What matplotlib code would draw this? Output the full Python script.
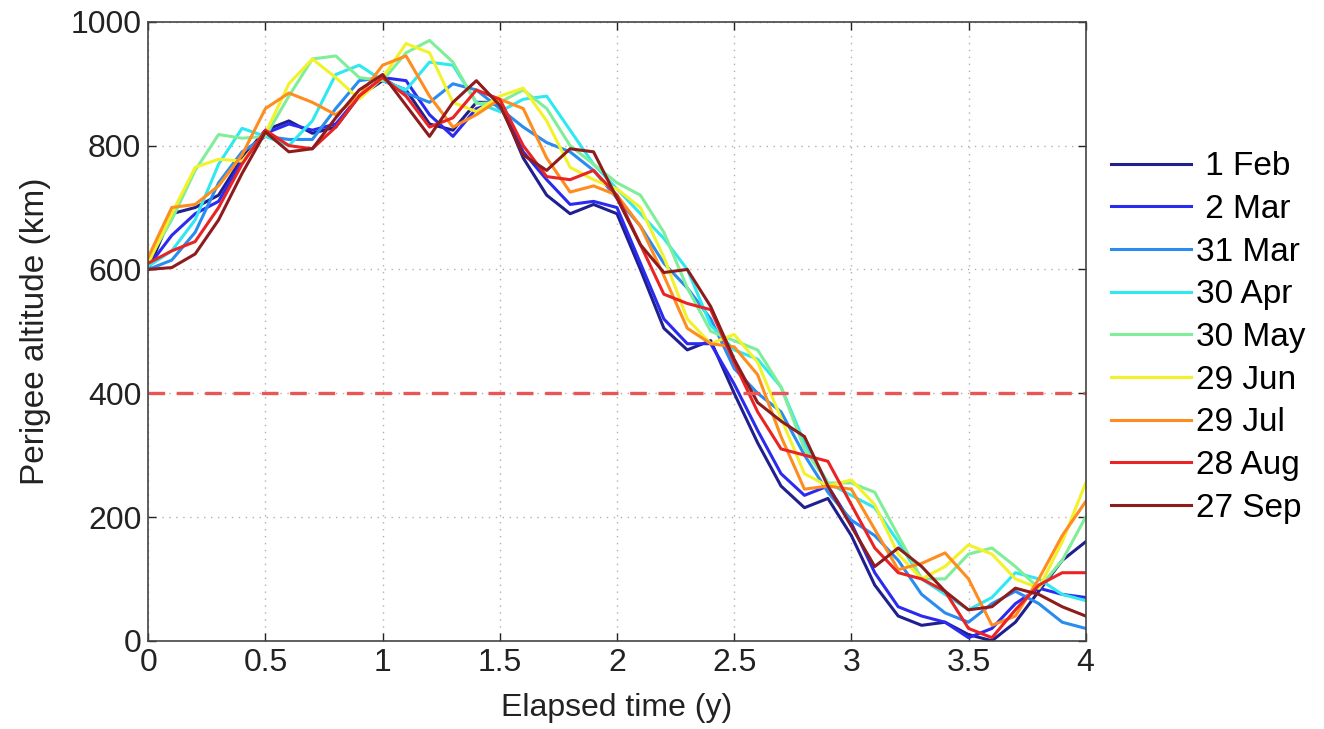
import numpy as np
import matplotlib
matplotlib.use("Agg")
import matplotlib.pyplot as plt

plt.rcParams["font.family"] = ["Liberation Sans", "DejaVu Sans"]

years = [round(0.1 * i, 1) for i in range(41)]

launch_dates = [" 1 Feb", " 2 Mar", "31 Mar", "30 Apr", "30 May",
                "29 Jun", "29 Jul", "28 Aug", "27 Sep"]

feb = [600, 690, 700, 720, 780, 825, 840, 820, 830, 880, 905, 890, 835, 825,
       870, 870, 780, 720, 690, 705, 690, 600, 505, 470, 485, 400, 320, 250,
       215, 230, 170, 90, 40, 25, 30, 10, 0, 30, 80, 130, 160]
mar2 = [605, 655, 690, 710, 775, 820, 835, 825, 835, 880, 910, 905, 850, 815,
        860, 870, 790, 745, 705, 710, 700, 610, 520, 480, 480, 415, 340, 270,
        235, 250, 190, 110, 55, 40, 30, 5, 20, 60, 85, 75, 70]
mar31 = [600, 615, 660, 740, 790, 815, 810, 810, 860, 905, 910, 885, 870, 900,
         890, 860, 830, 805, 790, 760, 715, 670, 610, 570, 520, 440, 400, 370,
         300, 240, 195, 170, 130, 75, 45, 30, 60, 80, 60, 30, 20]
apr = [605, 630, 680, 770, 828, 815, 800, 840, 915, 930, 905, 890, 935, 930,
       870, 855, 875, 880, 825, 770, 730, 690, 650, 600, 510, 470, 455, 410,
       320, 255, 235, 215, 160, 100, 75, 50, 70, 110, 100, 75, 65]
may = [615, 680, 760, 818, 812, 815, 880, 940, 945, 910, 905, 950, 970, 935,
       868, 870, 890, 860, 800, 770, 740, 720, 660, 570, 500, 485, 470, 410,
       310, 255, 255, 240, 170, 100, 100, 140, 150, 120, 85, 130, 200]
jun = [610, 690, 765, 778, 775, 820, 900, 940, 910, 875, 910, 965, 950, 870,
       855, 880, 893, 840, 765, 745, 730, 700, 620, 520, 480, 495, 450, 360,
       270, 250, 260, 220, 140, 100, 120, 155, 140, 100, 85, 160, 255]
jul = [620, 700, 705, 735, 785, 860, 885, 870, 850, 880, 930, 945, 880, 830,
       850, 875, 860, 780, 725, 735, 720, 670, 590, 505, 480, 475, 430, 330,
       245, 250, 245, 180, 115, 125, 142, 100, 25, 40, 100, 170, 225]
aug = [610, 630, 645, 700, 770, 825, 800, 795, 830, 880, 910, 880, 830, 845,
       890, 875, 800, 750, 745, 760, 720, 640, 560, 545, 535, 450, 370, 310,
       300, 290, 220, 150, 110, 100, 80, 20, 5, 50, 90, 110, 110]
sep = [600, 603, 625, 680, 755, 822, 790, 795, 845, 890, 915, 865, 815, 870,
       905, 865, 785, 760, 795, 790, 715, 640, 595, 600, 540, 455, 385, 355,
       330, 250, 185, 120, 150, 120, 80, 50, 55, 85, 75, 55, 40]

series = [feb, mar2, mar31, apr, may, jun, jul, aug, sep]
colors = ["#1f1f8f", "#2b2bf0", "#2a8cf0", "#2fe8f0", "#80ee98",
          "#f2f22a", "#ff8c1f", "#ea2424", "#8e1c1c"]

reentry_altitude = 400

fig = plt.figure(figsize=(13.24, 7.29), dpi=100)
ax = fig.add_axes([0.112, 0.121, 0.708, 0.849])

for values, color, label in zip(series, colors, launch_dates):
    ax.plot(years, values, color=color, linewidth=2.2, label=label)

ax.axhline(reentry_altitude, color="#ea5555", linestyle=(0, (5, 3.5)),
           linewidth=2.4)

ax.set_xlim(0, 4)
ax.set_ylim(0, 1000)
ax.set_xticks([0, 0.5, 1, 1.5, 2, 2.5, 3, 3.5, 4])
ax.set_xticklabels(["0", "0.5", "1", "1.5", "2", "2.5", "3", "3.5", "4"])
ax.set_yticks([0, 200, 400, 600, 800, 1000])
ax.tick_params(direction="in", top=True, right=True, labelsize=23,
               length=6, width=1, colors="#222222", pad=5)
ax.grid(True, linestyle=(0, (1, 4)), color="#b0b0b0", linewidth=1.0)
for spine in ax.spines.values():
    spine.set_color("#444444")
    spine.set_linewidth(1.2)

ax.set_xlabel("Elapsed time (y)", fontsize=23, color="#222222", labelpad=11)
ax.set_ylabel("Perigee altitude (km)", fontsize=24, color="#222222",
              labelpad=14)

ax.legend(loc="center left", bbox_to_anchor=(1.0, 0.49), frameon=False,
          fontsize=24, handlelength=2.4, handletextpad=0.15,
          labelspacing=0.35, borderaxespad=0.35)

fig.savefig("out.png", dpi=100)
